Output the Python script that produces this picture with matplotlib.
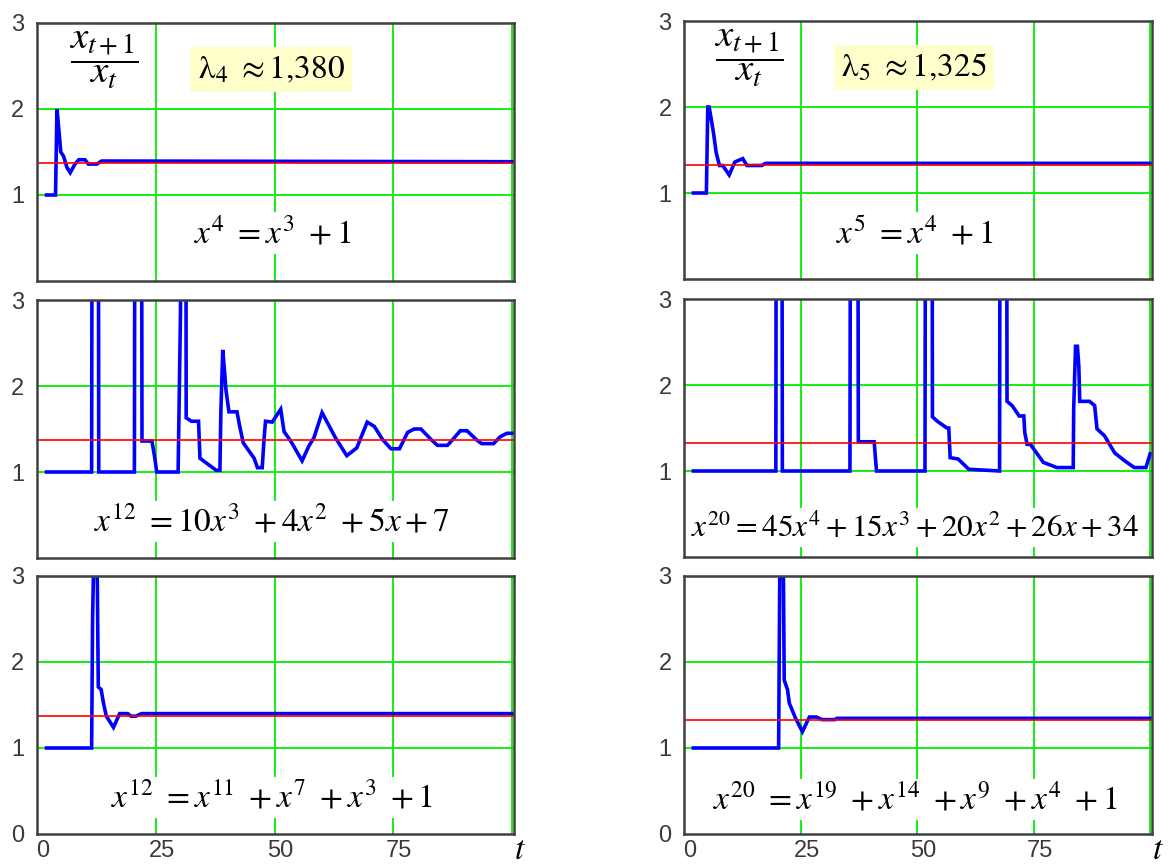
import matplotlib
matplotlib.use("Agg")
import matplotlib.pyplot as plt
from matplotlib.transforms import ScaledTranslation

plt.rcParams['mathtext.fontset'] = 'stix'
plt.rcParams['font.family'] = ['Liberation Serif', 'DejaVu Serif']

# ratio x(t+1)/x(t) (vertices of each polyline)
t1 = [2, 3.9, 4.2, 4.6, 5.0, 5.6, 6.3, 7.0, 8.0, 8.8, 10.1, 10.8, 12.6, 13.6, 14.7, 100]
v1 = [1, 1, 2.0, 1.76, 1.5, 1.45, 1.32, 1.26, 1.36, 1.41, 1.41, 1.36, 1.36, 1.395, 1.395, 1.387]

t2 = [2, 11.5, 12.3, 13.0, 20.5, 21.3, 22.1, 24.2, 24.8, 25.2, 29.7, 30.2, 30.8, 31.4,
      32.5, 34.0, 34.3, 37.7, 38.5, 38.7, 39.1, 39.5, 39.8, 40.4, 42.1, 42.6, 43.4, 45.7,
      46.4, 47.4, 47.8, 48.1, 49.5, 51.3, 52.0, 53.4, 55.8, 57.2, 58.3, 60.0, 62.8, 65.2,
      67.3, 69.5, 71.0, 72.7, 74.5, 76.3, 78.0, 79.4, 80.8, 82.9, 84.3, 86.4, 87.7, 89.1,
      90.5, 92.6, 93.6, 96.1, 97.5, 98.9, 100]
v2 = [1, 1, 30, 1, 1, 30, 1.36, 1.36, 1.16, 1.0, 1.0, 2.85, 30, 1.63,
      1.59, 1.59, 1.16, 1.02, 1.02, 1.70, 2.42, 2.15, 1.94, 1.70, 1.70, 1.55, 1.34, 1.16,
      1.05, 1.05, 1.39, 1.59, 1.58, 1.73, 1.47, 1.36, 1.13, 1.30, 1.40, 1.69, 1.40, 1.19,
      1.28, 1.58, 1.53, 1.38, 1.27, 1.27, 1.46, 1.50, 1.50, 1.38, 1.31, 1.31, 1.39, 1.48,
      1.48, 1.37, 1.33, 1.33, 1.41, 1.45, 1.45]

t3 = [2, 11.5, 11.7, 12.2, 12.7, 12.9, 13.5, 14.0, 14.6, 16.1, 17.4, 19.1, 19.8, 20.8, 22.0, 25.5, 100]
v3 = [1, 1, 2.5, 4.0, 2.9, 1.71, 1.68, 1.52, 1.37, 1.24, 1.40, 1.40, 1.37, 1.37, 1.40, 1.40, 1.40]

t4 = [2, 4.8, 5.1, 5.4, 6.3, 6.9, 7.6, 8.3, 9.7, 10.9, 12.6, 13.5, 16.7, 17.5, 100]
v4 = [1, 1, 2.0, 2.0, 1.71, 1.47, 1.32, 1.32, 1.21, 1.36, 1.40, 1.32, 1.32, 1.345, 1.345]

t5 = [2, 19.7, 20.4, 21.1, 35.6, 36.5, 37.4, 40.8, 41.1, 41.3, 51.7, 52.5, 53.3, 54.3,
      56.4, 56.8, 57.1, 58.8, 61.1, 67.7, 68.5, 69.3, 70.4, 71.9, 72.9, 73.1, 73.6, 74.3,
      77.1, 80.0, 83.5, 83.6, 84.0, 84.4, 84.7, 84.9, 87.0, 88.1, 88.6, 90.2, 92.4, 94.5,
      96.6, 99.1, 100]
v5 = [1, 1, 30, 1, 1, 30, 1.34, 1.34, 1.13, 1.0, 1.0, 30, 1.63, 1.58,
      1.50, 1.50, 1.155, 1.14, 1.02, 1.0, 30, 1.81, 1.76, 1.64, 1.64, 1.45, 1.31, 1.31,
      1.10, 1.04, 1.04, 1.72, 2.45, 2.45, 2.22, 1.81, 1.81, 1.76, 1.49, 1.41, 1.21, 1.12,
      1.04, 1.04, 1.2]

t6 = [2, 20.3, 20.9, 21.5, 22.2, 22.6, 23.9, 25.4, 26.9, 28.4, 29.6, 32.4, 32.8, 100]
v6 = [1, 1, 6, 1.79, 1.68, 1.52, 1.35, 1.19, 1.36, 1.36, 1.33, 1.33, 1.345, 1.345]

lam_left = 1.37
lam_right = 1.325

eq1 = r'$x^{4}\ =x^{3}\ +1$'
eq2 = r'$x^{12}\ =10x^{3}\ +4x^{2}\ +5x+7$'
eq3 = r'$x^{12}\ =x^{11}\ +x^{7}\ +x^{3}\ +1$'
eq4 = r'$x^{5}\ =x^{4}\ +1$'
eq5 = r'$x^{20}=45x^{4}+15x^{3}+20x^{2}+26x+34$'
eq6 = r'$x^{20}\ =x^{19}\ +x^{14}\ +x^{9}\ +x^{4}\ +1$'

lam_txt4 = r'$\mathrm{\lambda}_{4}\ \approx 1{,}380$'
lam_txt5 = r'$\mathrm{\lambda}_{5}\ \approx 1{,}325$'

xticks = [0, 25, 50, 75]
green = '#00ee00'

fig = plt.figure(figsize=(11.72, 8.64), dpi=100)


def panel(rect, t, v, lam, eq, eq_y, bottom=False, lam_txt=None, eq_size=24):
    ax = fig.add_axes(rect)
    ax.set_xlim(0, 100.4)
    ax.set_ylim(0, 3)
    for gx in [25, 50, 75, 100]:
        ax.axvline(gx, color=green, lw=1.3, zorder=1)
    for gy in [1, 2]:
        ax.axhline(gy, color=green, lw=1.3, zorder=1)
    ax.plot(t, v, color='#0000ff', lw=2.6, zorder=2, solid_joinstyle='miter')
    ax.axhline(lam, color='#ff0000', lw=1.2, zorder=2.2)
    ax.text(49.5, eq_y, eq, fontsize=eq_size, ha='center', va='center', zorder=3,
            bbox=dict(boxstyle='square,pad=0.12', fc='white', ec='none'))
    if lam_txt is not None:
        ax.text(49.3, 2.46, lam_txt, fontsize=24, ha='center', va='center', zorder=3,
                bbox=dict(boxstyle='square,pad=0.22', fc='#ffffcc', ec='none'))
        ax.text(14, 2.57, r'$\dfrac{x_{t+1}}{x_{t}}$', fontsize=28, ha='center',
                va='center', zorder=3)
    for s in ax.spines.values():
        s.set_color('#404040')
        s.set_linewidth(1.8)
    ax.tick_params(length=0, labelsize=17, labelcolor='#3a3a3a', pad=9)
    if bottom:
        ax.set_yticks([0, 1, 2, 3])
        ax.set_xticks(xticks)
        ax.tick_params(axis='x', pad=4)
        for lbl in ax.get_xticklabels():
            lbl.set_fontfamily('Liberation Sans')
            lbl.set_transform(lbl.get_transform() + ScaledTranslation(0.06, 0, fig.dpi_scale_trans))
        ax.text(100.5, -0.02, '$t$', fontsize=24, ha='left', va='top',
                transform=ax.transData)
    else:
        ax.set_yticks([1, 2, 3])
        ax.set_xticks([])
    for lbl in ax.get_yticklabels():
        lbl.set_fontfamily('Liberation Sans')
    return ax


h = 258 / 864
lx, lw = 37 / 1172, 477 / 1172
rx, rw = 684 / 1172, 468 / 1172

panel([lx, 1 - 281 / 864, lw, h], t1, v1, lam_left, eq1, 0.56, lam_txt=lam_txt4)
panel([lx, 1 - 558 / 864, lw, h], t2, v2, lam_left, eq2, 0.42)
panel([lx, 1 - 834 / 864, lw, h], t3, v3, lam_left, eq3, 0.42, bottom=True)
panel([rx, 1 - 279 / 864, rw, h], t4, v4, lam_right, eq4, 0.53, lam_txt=lam_txt5)
panel([rx, 1 - 557 / 864, rw, h], t5, v5, lam_right, eq5, 0.34, eq_size=22.5)
panel([rx, 1 - 834 / 864, rw, h], t6, v6, lam_right, eq6, 0.40, bottom=True)

plt.savefig('out.png', dpi=100)
